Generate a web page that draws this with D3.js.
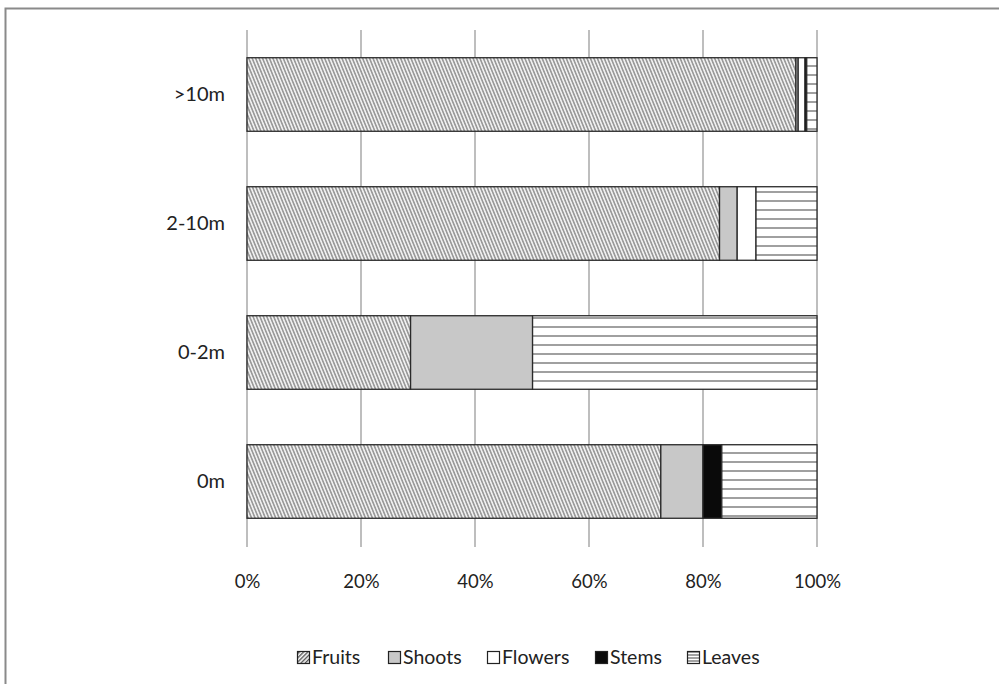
<!DOCTYPE html>
<html><head><meta charset="utf-8">
<script src="https://cdn.jsdelivr.net/npm/d3@7"></script>
<style>body{margin:0;background:#fff}svg{display:block}text{font-family:Lato,"Open Sans",sans-serif;fill:#222}</style>
</head><body><svg id="c" width="999" height="684"></svg>
<script>
const categories = [">10m", "2-10m", "0-2m", "0m"];
const seriesNames = ["Fruits", "Shoots", "Flowers", "Stems", "Leaves"];
const fruits  = [96.3, 82.9, 28.7, 72.6];
const shoots  = [0.4, 3.1, 21.4, 7.4];
const flowers = [1.2, 3.3, 0, 0];
const stems   = [0.3, 0, 0, 3.3];
const leaves  = [1.8, 10.7, 49.9, 16.7];
const tickValues = [0, 20, 40, 60, 80, 100];

const series = [fruits, shoots, flowers, stems, leaves];
const svg = d3.select("#c");
const defs = svg.append("defs");
const pf = defs.append("pattern").attr("id","pFruits").attr("patternUnits","userSpaceOnUse")
  .attr("width",3.2).attr("height",8).attr("patternTransform","rotate(-22)");
pf.append("rect").attr("width",3.2).attr("height",8).attr("fill","#f0f0f0");
pf.append("rect").attr("width",1.6).attr("height",8).attr("fill","#9a9a9a");
const pl = defs.append("pattern").attr("id","pLeaves").attr("patternUnits","userSpaceOnUse")
  .attr("width",8).attr("height",9).attr("y",2);
pl.append("rect").attr("width",8).attr("height",9).attr("fill","#fff");
pl.append("rect").attr("width",8).attr("height",2).attr("fill","#a0a0a0");
const pfl = defs.append("pattern").attr("id","pFruitsL").attr("patternUnits","userSpaceOnUse")
  .attr("width",3).attr("height",3).attr("patternTransform","rotate(45)");
pfl.append("rect").attr("width",3).attr("height",3).attr("fill","#fff");
pfl.append("rect").attr("width",1.4).attr("height",3).attr("fill","#555");
const pll = defs.append("pattern").attr("id","pLeavesL").attr("patternUnits","userSpaceOnUse")
  .attr("width",4).attr("height",3).attr("y",651.5);
pll.append("rect").attr("width",4).attr("height",3).attr("fill","#fff");
pll.append("rect").attr("width",4).attr("height",1).attr("fill","#444");

const fills = ["url(#pFruits)", "#c8c8c8", "#ffffff", "#0a0a0a", "url(#pLeaves)"];
const legendFills = ["url(#pFruitsL)", "#c8c8c8", "#ffffff", "#0a0a0a", "url(#pLeavesL)"];

// outer border
svg.append("path").attr("d","M5.5,690 V8.5 H1005").attr("fill","none").attr("stroke","#8a8a8a").attr("stroke-width",2);

const x = d3.scaleLinear().domain([0,100]).range([247,817]);
const y = d3.scaleBand().domain(categories).range([30,546]).paddingInner(0.43).paddingOuter(0.215);

// gridlines
svg.append("g").selectAll("line").data(tickValues).join("line")
  .attr("x1",d=>x(d)).attr("x2",d=>x(d)).attr("y1",30).attr("y2",547)
  .attr("stroke","#a8a8a8").attr("stroke-width",1.5);

// x axis labels
const xAxis = d3.axisBottom(x).tickValues(tickValues).tickFormat(d=>d+"%").tickSize(0).tickPadding(0);
const gx = svg.append("g").attr("transform","translate(0,575)").call(xAxis);
gx.select(".domain").remove();
gx.selectAll("text").attr("font-size",18.5).attr("fill","#222").style("font-family","Lato,'Open Sans',sans-serif");

// y axis labels
const yAxis = d3.axisLeft(y).tickSize(0).tickPadding(22);
const gy = svg.append("g").attr("transform","translate(247,0)").call(yAxis);
gy.select(".domain").remove();
gy.selectAll("text").attr("font-size",20).attr("fill","#222").style("font-family","Lato,'Open Sans',sans-serif");

// stacked bars
const rows = categories.map((c,i)=>{const o={cat:c}; seriesNames.forEach((s,j)=>o[s]=series[j][i]); return o;});
const stack = d3.stack().keys(seriesNames)(rows);
svg.append("g").selectAll("g").data(stack).join("g")
  .attr("fill",(d,i)=>fills[i])
  .selectAll("rect").data(d=>d.filter(p=>p[1]-p[0]>0)).join("rect")
  .attr("x",d=>x(d[0])).attr("width",d=>x(d[1])-x(d[0]))
  .attr("y",d=>y(d.data.cat)).attr("height",y.bandwidth())
  .attr("stroke","#2a2a2a").attr("stroke-width",1.3);

// legend
const legendX = [297, 388, 487, 595, 687];
const lg = svg.append("g");
seriesNames.forEach((s,i)=>{
  lg.append("rect").attr("x",legendX[i]+0.5).attr("y",651.5).attr("width",12).attr("height",12)
    .attr("fill",legendFills[i]).attr("stroke","#222").attr("stroke-width",1.2);
  lg.append("text").attr("x",legendX[i]+15).attr("y",664).attr("font-size",19.5).text(s);
});
</script></body></html>
